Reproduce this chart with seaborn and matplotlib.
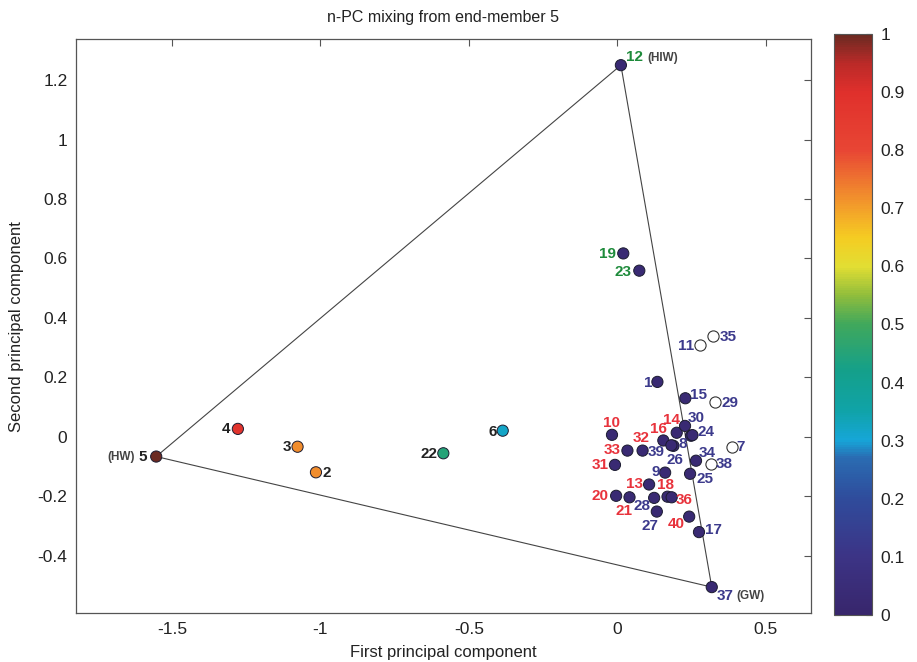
import numpy as np
import pandas as pd
import matplotlib
matplotlib.use("Agg")
import matplotlib.pyplot as plt
import seaborn as sns
from matplotlib.colors import LinearSegmentedColormap, Normalize
from matplotlib.cm import ScalarMappable
from matplotlib.ticker import FuncFormatter

# sample numbers and their scores on the first two principal components
sample_ids = list(range(1, 41))
pc1 = [0.135, -1.015, -1.077, -1.278, -1.553, -0.386, 0.386, 0.248, 0.161, -0.018,
       0.278, 0.012, 0.107, 0.200, 0.229, 0.155, 0.275, 0.169, 0.020, -0.004,
       0.041, -0.586, 0.074, 0.253, 0.245, 0.189, 0.133, 0.124, 0.329, 0.228,
       -0.008, 0.085, 0.034, 0.265, 0.323, 0.183, 0.318, 0.314, 0.182, 0.242]
pc2 = [0.185, -0.119, -0.033, 0.027, -0.066, 0.021, -0.033, 0.004, -0.120, 0.007,
       0.308, 1.250, -0.160, 0.014, 0.130, -0.012, -0.320, -0.201, 0.617, -0.198,
       -0.203, -0.055, 0.559, 0.006, -0.124, -0.030, -0.251, -0.205, 0.119, 0.037,
       -0.094, -0.046, -0.046, -0.080, 0.341, -0.203, -0.505, -0.091, -0.028, -0.268]
# mixing fraction from end-member 5 (nan = outside the mixing triangle, open symbol)
frac = [0.03, 0.72, 0.72, 0.88, 1.00, 0.32, np.nan, 0.03, 0.03, 0.03,
        np.nan, 0.03, 0.03, 0.03, 0.03, 0.03, 0.03, 0.03, 0.03, 0.03,
        0.03, 0.45, 0.03, 0.03, 0.03, 0.03, 0.03, 0.03, np.nan, 0.03,
        0.03, 0.03, 0.03, 0.03, np.nan, 0.03, 0.03, np.nan, 0.03, 0.03]
# label colour group
groups = ['b', 'k', 'k', 'k', 'k', 'k', 'b', 'b', 'b', 'r',
          'b', 'g', 'r', 'r', 'b', 'r', 'b', 'r', 'g', 'r',
          'r', 'k', 'g', 'b', 'b', 'b', 'b', 'b', 'b', 'b',
          'r', 'r', 'r', 'b', 'b', 'r', 'b', 'b', 'b', 'r']
end_members = [5, 12, 37]
end_member_names = {5: '(HW)', 12: '(HIW)', 37: '(GW)'}

df = pd.DataFrame({'id': sample_ids, 'pc1': pc1, 'pc2': pc2, 'frac': frac, 'group': groups})

cmap = LinearSegmentedColormap.from_list('mix', [
    (0.00, '#38266c'), (0.10, '#3c3486'), (0.20, '#2f4c9c'), (0.27, '#2a6cb2'),
    (0.30, '#16a6d8'), (0.35, '#10a3a8'), (0.42, '#14a08a'), (0.50, '#40a85c'),
    (0.55, '#90bd3c'), (0.60, '#e2de33'), (0.65, '#f5cc22'), (0.70, '#f3a02a'),
    (0.75, '#ee7430'), (0.80, '#e84634'), (0.90, '#e0302c'), (0.95, '#bb2a28'),
    (1.00, '#6b2a22')])
norm = Normalize(0, 1)

label_colors = {'b': '#3c3a8c', 'r': '#e8333c', 'g': '#1e8b3b', 'k': '#222222'}

# label offsets from the marker, in pixels (right, down)
offsets = {1: (-9.5, 0.7), 2: (10.5, 0.3), 3: (-11, 0.7), 4: (-11.5, 0), 5: (-13, 0.7),
           6: (-9.8, 1), 7: (9, 0.7), 8: (-8, 8), 9: (-9.5, -1), 10: (0, -11.5),
           11: (-13.5, 0.7), 12: (14, -7.7), 13: (-15, -0.7), 14: (-5, -13), 15: (13, -3.3),
           16: (-4.7, -11.5), 17: (14.5, -1.7), 18: (-2.3, -11.5), 19: (-16, 0.7), 20: (-16, 0),
           21: (-6, 13.5), 22: (-14.5, 0.7), 23: (-16, 1), 24: (13.5, -3), 25: (15, 5),
           26: (1.7, 14), 27: (-7.3, 14), 28: (-12, 8), 29: (15, 1), 30: (11.5, -7.5),
           31: (-15, 0), 32: (-1.7, -13), 33: (-15, -0.7), 34: (11.5, -7.5), 35: (15, 1),
           36: (12.5, 2.7), 37: (13, 9), 38: (14, 0), 39: (-15, 7), 40: (-12.5, 7.5)}
name_offsets = {5: (-35, 0), 12: (42, -6.7), 37: (38.5, 9)}

sns.set_style('white')
plt.rcParams['font.family'] = ['Liberation Sans', 'DejaVu Sans']
plt.rcParams['axes.unicode_minus'] = False

fig = plt.figure(figsize=(9.17, 6.62), dpi=100)
ax = fig.add_axes([0.0826, 0.0736, 0.8014, 0.8675])
cax = fig.add_axes([0.9095, 0.071, 0.0414, 0.878])

# mixing triangle through the three end-members
tri = df.set_index('id').loc[end_members + [end_members[0]]]
ax.plot(tri['pc1'], tri['pc2'], color='#444444', lw=0.8, zorder=1)

inside = df[df['frac'].notna()]
outside = df[df['frac'].isna()]
sns.scatterplot(data=inside, x='pc1', y='pc2', hue='frac', palette=cmap, hue_norm=norm,
                s=65, edgecolor='#1c1c30', linewidth=0.7, legend=False, ax=ax, zorder=3)
sns.scatterplot(data=outside, x='pc1', y='pc2', color='white', s=65,
                edgecolor='#333333', linewidth=0.8, legend=False, ax=ax, zorder=3)

px = 0.72
for _, row in df.iterrows():
    sid = int(row['id'])
    dx, dy = offsets[sid]
    ax.annotate(str(sid), (row['pc1'], row['pc2']), xytext=(dx * px, -dy * px),
                textcoords='offset points', ha='center', va='center',
                fontsize=11, fontweight='bold', color=label_colors[row['group']], zorder=4)
    if sid in end_member_names:
        nx, ny = name_offsets[sid]
        ax.annotate(end_member_names[sid], (row['pc1'], row['pc2']), xytext=(nx * px, -ny * px),
                    textcoords='offset points', ha='center', va='center',
                    fontsize=8.5, fontweight='bold', color='#444444', zorder=4)

ax.set_xlim(-1.824, 0.651)
ax.set_ylim(-0.593, 1.338)
ax.set_xticks([-1.5, -1, -0.5, 0, 0.5])
ax.set_yticks(np.round(np.arange(-0.4, 1.21, 0.2), 1))
fmt = FuncFormatter(lambda v, p: '%g' % round(v, 2))
ax.xaxis.set_major_formatter(fmt)
ax.yaxis.set_major_formatter(fmt)
ax.tick_params(direction='in', length=5, top=True, right=True, labelsize=12.5,
               colors='#555555', labelcolor='#222222', width=0.8, pad=6)
for sp in ax.spines.values():
    sp.set_color('#555555')
    sp.set_linewidth(0.9)
ax.set_xlabel('First principal component', fontsize=12, color='#222222', labelpad=6)
ax.set_ylabel('Second principal component', fontsize=12, color='#222222', labelpad=10)
ax.set_title('n-PC mixing from end-member 5', fontsize=11.5, color='#222222', pad=12)

cb = fig.colorbar(ScalarMappable(norm=norm, cmap=cmap), cax=cax)
cb.set_ticks(np.round(np.arange(0, 1.01, 0.1), 1))
cb.ax.yaxis.set_major_formatter(fmt)
cb.ax.tick_params(direction='in', length=4, left=True, right=True, labelsize=12.5,
                  colors='#555555', labelcolor='#222222', width=0.8, pad=6)
cb.outline.set_edgecolor('#555555')
cb.outline.set_linewidth(0.8)

fig.savefig('out.png', dpi=100)
